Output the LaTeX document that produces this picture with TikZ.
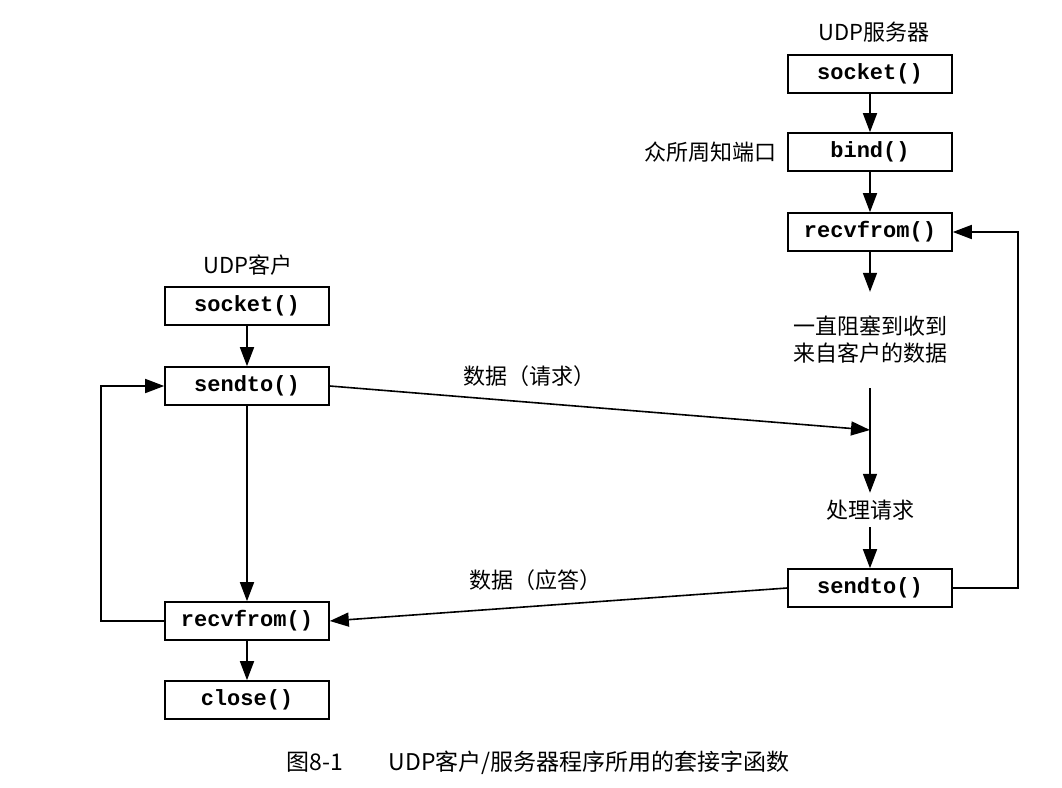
\documentclass[tikz,border=0pt]{standalone}
\usepackage{fontspec}
\setmonofont{Liberation Mono}
\newfontfamily\cjk{Noto Sans CJK SC}
\usetikzlibrary{arrows.meta}

\begin{document}
\begin{tikzpicture}[
    x=0.5pt, y=-0.5pt,
    box/.style={rectangle, draw, line width=0.8pt, minimum width=82pt, minimum height=19pt, inner sep=0pt, font=\ttfamily\bfseries\fontsize{11}{13}\selectfont},
    note/.style={font=\cjk\fontsize{11}{13.5}\selectfont, align=center},
    arrow/.style={-{Triangle[length=9.5pt, width=7pt]}, line width=0.8pt}
]
    \useasboundingbox (0,0) rectangle (1062,788);

    % Client nodes
    \node[note] (ctitle) at (248,265) {UDP客户};
    \node[box] (csock) at (247,306) {socket()};
    \node[box] (csend) at (247,386) {sendto()};
    \node[box] (crecv) at (247,621) {recvfrom()};
    \node[box] (cclose) at (247,700) {close()};

    % Server nodes
    \node[note] (stitle) at (874,32) {UDP服务器};
    \node[box] (ssock) at (870,74) {socket()};
    \node[box] (sbind) at (870,152) {bind()};
    \node[note, left=2pt] (port) at (sbind.west) {众所周知端口};
    \node[box] (srecv) at (870,232) {recvfrom()};
    \node[note, inner ysep=12pt] (wait) at (870,340) {一直阻塞到收到\\来自客户的数据};
    \node[note] (proc) at (870,510) {处理请求};
    \node[box] (ssend) at (870,588) {sendto()};
    \coordinate (join) at (870,430);

    % Caption
    \node[note, font=\cjk\fontsize{11.5}{14}\selectfont] (caption) at (538,763) {图8-1\hspace{2em}UDP客户/服务器程序所用的套接字函数};

    % Client arrows
    \draw[arrow] (csock) -- (csend);
    \draw[arrow] (csend) -- (crecv);
    \draw[arrow] (crecv) -- (cclose);
    \draw[arrow] (crecv.west) -- ++(-63,0) |- (csend.west);

    % Server arrows
    \draw[arrow] (ssock) -- (sbind);
    \draw[arrow] (sbind) -- (srecv);
    \draw[arrow] (srecv) -- (wait);
    \draw[arrow] (wait) -- (proc);
    \draw[arrow] (proc) -- (ssend);
    \draw[arrow] (ssend.east) -- ++(65,0) |- (srecv.east);

    % Data between client and server
    \draw[arrow] (csend.east) -- node[note, pos=0.37, above=4pt] {数据（请求）} (join);
    \draw[arrow] (ssend.west) -- node[note, pos=0.55, above=4pt] {数据（应答）} (crecv.east);

\end{tikzpicture}
\end{document}
